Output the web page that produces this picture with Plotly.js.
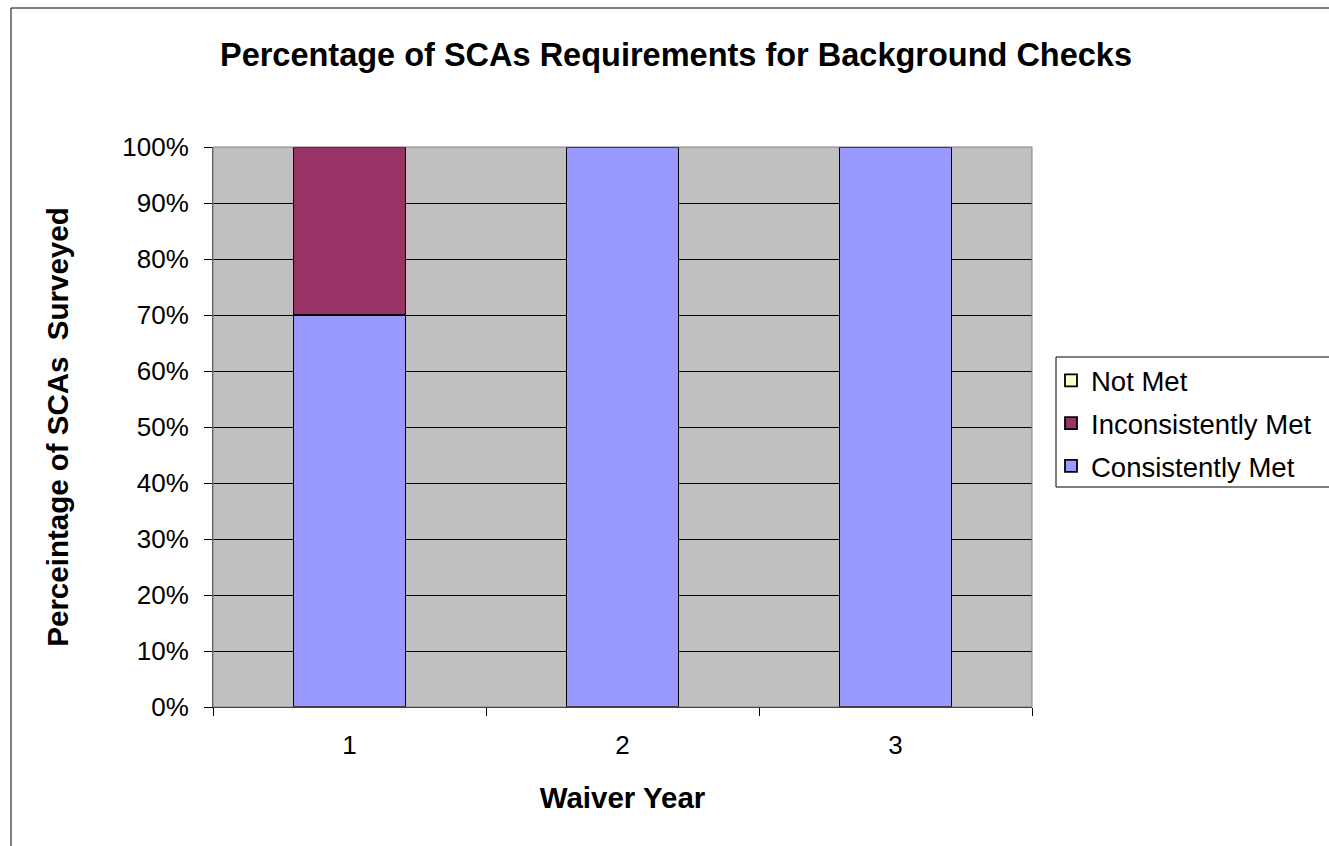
<!DOCTYPE html>
<html>
<head>
<meta charset="utf-8">
<script src="https://cdn.plot.ly/plotly-3.0.1.min.js"></script>
<style>
html,body{margin:0;padding:0;background:#fff;}
#chart{width:1329px;height:846px;}
</style>
</head>
<body>
<div id="chart"></div>
<script>
var years = ['1', '2', '3'];
var consistentlyMet = [70, 100, 100];
var inconsistentlyMet = [30, 0, 0];
var notMet = [0, 0, 0];
var seriesNames = ['Consistently Met', 'Inconsistently Met', 'Not Met'];
var seriesColors = ['#9999FF', '#993366', '#FFFFCC'];
var yTickVals = [0, 10, 20, 30, 40, 50, 60, 70, 80, 90, 100];
var yTickLabels = ['0%', '10%', '20%', '30%', '40%', '50%', '60%', '70%', '80%', '90%', '100%'];

var FONT = '"Liberation Sans", Arial, sans-serif';
var seriesValues = [consistentlyMet, inconsistentlyMet, notMet];

var traces = seriesValues.map(function (vals, i) {
  return {
    type: 'bar',
    x: years,
    y: vals,
    name: seriesNames[i],
    legendgroup: 'g' + i,
    legendrank: 1000 - i,
    marker: { color: seriesColors[i], line: { color: '#000000', width: 1.8 } },
    hoverinfo: 'x+y+name'
  };
});

var L = 213, R = 1032, T = 147, B = 707, W = 1329, H = 846;
var pw = R - L, ph = B - T;

var layout = {
  width: W, height: H,
  margin: { l: L, r: W - R, t: T, b: H - B, pad: 0 },
  paper_bgcolor: '#FFFFFF',
  plot_bgcolor: '#C0C0C0',
  barmode: 'stack',
  bargap: 0.59,
  font: { family: FONT, size: 26, color: '#000000' },
  title: {
    text: '<b>Percentage of SCAs Requirements for Background Checks</b>',
    font: { family: FONT, size: 32.5, color: '#000000' },
    xref: 'container', yref: 'container',
    x: 676 / W, xanchor: 'center',
    y: 1 - 55 / H, yanchor: 'middle'
  },
  xaxis: {
    type: 'category',
    tickson: 'boundaries',
    ticks: 'outside', ticklen: 8, tickcolor: '#000000', tickwidth: 1,
    showline: true, linecolor: '#000000', linewidth: 1,
    showgrid: false,
    tickfont: { family: FONT, size: 26, color: '#000000' },
    ticklabelstandoff: 15,
    title: { text: '<b>Waiver Year</b>', font: { family: FONT, size: 29.5, color: '#000000' }, standoff: 28 },
    automargin: false
  },
  yaxis: {
    range: [0, 100],
    tickmode: 'array',
    tickvals: yTickVals,
    ticktext: yTickLabels,
    ticks: 'outside', ticklen: 8, tickcolor: '#000000', tickwidth: 1,
    showline: true, linecolor: '#404040', linewidth: 1,
    showgrid: true, gridcolor: '#000000', gridwidth: 1,
    zeroline: false,
    tickfont: { family: FONT, size: 26, color: '#000000' },
    ticklabelstandoff: 10,
    title: { text: '<b>Perceintage of SCAs  Surveyed</b>', font: { family: FONT, size: 29.5, color: '#000000' }, standoff: 44 },
    automargin: false
  },
  legend: {
    x: (1051 - L) / pw, xanchor: 'left',
    y: (B - 356) / ph, yanchor: 'top',
    traceorder: 'grouped',
    tracegroupgap: 4,
    bgcolor: 'rgba(0,0,0,0)',
    borderwidth: 0,
    font: { family: FONT, size: 27.5, color: '#000000' },
    itemwidth: 30
  },
  shapes: [
    { type: 'rect', xref: 'paper', yref: 'paper', x0: 0, x1: 1, y0: 0, y1: 1,
      line: { color: '#808080', width: 1 }, fillcolor: 'rgba(0,0,0,0)', layer: 'above' },
    { type: 'rect', xref: 'paper', yref: 'paper',
      x0: (11 - L) / pw, x1: (1400 - L) / pw, y0: (B - 900) / ph, y1: (B - 8) / ph,
      line: { color: '#000000', width: 1 }, fillcolor: 'rgba(0,0,0,0)', layer: 'below' },
    { type: 'rect', xref: 'paper', yref: 'paper',
      x0: (1056 - L) / pw, x1: (1400 - L) / pw, y0: (B - 487) / ph, y1: (B - 357) / ph,
      line: { color: '#000000', width: 1 }, fillcolor: '#FFFFFF', layer: 'below' }
  ],
  showlegend: true
};

Plotly.newPlot('chart', traces, layout, { displayModeBar: false, staticPlot: true });
</script>
</body>
</html>
